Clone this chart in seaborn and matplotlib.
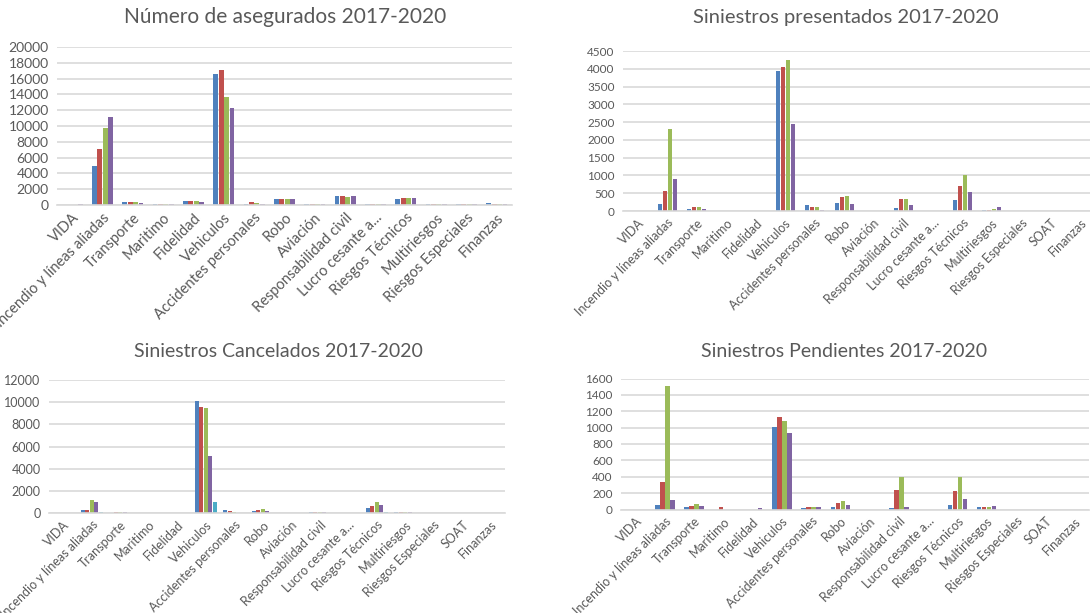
import numpy as np
import pandas as pd
import matplotlib
matplotlib.use("Agg")
import matplotlib.pyplot as plt
import seaborn as sns

sns.set_theme(style="white")
plt.rcParams['font.family'] = ['Lato', 'DejaVu Sans']

# ---------------- data ----------------
cats15 = ["VIDA", "Incendio y líneas aliadas", "Transporte", "Maritimo", "Fidelidad",
          "Vehiculos", "Accidentes personales", "Robo", "Aviación", "Responsabilidad civil",
          "Lucro cesante a...", "Riesgos Técnicos", "Multiriesgos", "Riesgos Especiales",
          "Finanzas"]
cats16 = ["VIDA", "Incendio y líneas aliadas", "Transporte", "Maritimo", "Fidelidad",
          "Vehiculos", "Accidentes personales", "Robo", "Aviación", "Responsabilidad civil",
          "Lucro cesante a...", "Riesgos Técnicos", "Multiriesgos", "Riesgos Especiales",
          "SOAT", "Finanzas"]

years4 = ["2017", "2018", "2019", "2020"]
years5 = ["2017", "2018", "2019", "2020", "Serie 5"]

# Número de asegurados 2017-2020
aseg_2017 = [0, 4900, 350, 130, 550, 16600, 150, 750, 130, 1150, 130, 750, 130, 130, 250]
aseg_2018 = [0, 7100, 350, 130, 550, 17100, 350, 750, 130, 1150, 130, 850, 130, 130, 150]
aseg_2019 = [0, 9800, 320, 130, 450, 13700, 220, 750, 130, 1050, 130, 850, 130, 130, 150]
aseg_2020 = [120, 11100, 250, 130, 350, 12300, 150, 750, 130, 1150, 130, 850, 130, 130, 150]

# Siniestros presentados 2017-2020
pres_2017 = [0, 200, 60, 0, 0, 3950, 170, 230, 0, 90, 0, 300, 30, 0, 0, 0]
pres_2018 = [0, 550, 100, 0, 0, 4060, 100, 400, 0, 350, 0, 710, 20, 0, 0, 0]
pres_2019 = [0, 2320, 120, 0, 0, 4240, 110, 410, 0, 350, 0, 1000, 70, 0, 0, 0]
pres_2020 = [0, 890, 60, 0, 0, 2450, 20, 190, 0, 160, 0, 530, 100, 0, 0, 0]

# Siniestros Cancelados 2017-2020
canc_2017 = [0, 300, 0, 0, 0, 10100, 250, 180, 0, 70, 0, 480, 70, 0, 0, 0]
canc_2018 = [0, 250, 70, 0, 0, 9600, 150, 300, 0, 70, 0, 650, 70, 0, 0, 0]
canc_2019 = [0, 1150, 70, 0, 0, 9450, 80, 350, 0, 120, 0, 980, 70, 0, 0, 0]
canc_2020 = [0, 1020, 70, 0, 0, 5150, 0, 200, 0, 70, 0, 680, 70, 0, 0, 0]
canc_s5 = [0, 80, 0, 0, 0, 1000, 0, 0, 0, 0, 0, 80, 0, 0, 0, 0]

# Siniestros Pendientes 2017-2020
pend_2017 = [0, 60, 25, 0, 0, 1010, 15, 25, 0, 20, 0, 60, 30, 0, 0, 0]
pend_2018 = [0, 340, 45, 25, 0, 1125, 35, 85, 0, 235, 0, 220, 25, 0, 0, 0]
pend_2019 = [0, 1510, 70, 0, 0, 1075, 35, 100, 0, 400, 0, 395, 30, 0, 0, 0]
pend_2020 = [0, 120, 45, 0, 15, 935, 30, 55, 0, 35, 0, 125, 40, 0, 0, 0]

palette = ["#4F81BD", "#C0504D", "#9BBB59", "#8064A2", "#4BACC6"]
TXT = "#595959"
GRID = "#D9D9D9"


def long_df(cats, series, names):
    rows = []
    for name, vals in zip(names, series):
        for c, v in zip(cats, vals):
            rows.append({"cat": c, "serie": name, "val": v})
    return pd.DataFrame(rows)


fig = plt.figure(figsize=(10.9, 6.13), dpi=100)


def panel(rect, cats, series, names, ylim, step, title, title_xy, title_fs,
          tick_fs, xtick_fs, width):
    ax = fig.add_axes(rect)
    df = long_df(cats, series, names)
    sns.barplot(data=df, x="cat", y="val", hue="serie", order=cats, hue_order=names,
                palette=palette[:len(names)], saturation=1, errorbar=None, width=width,
                gap=0.12, linewidth=0, ax=ax, legend=False)
    ax.set_xlim(-0.5, len(cats) - 0.5)
    ax.set_ylim(0, ylim)
    ax.set_yticks(np.arange(0, ylim + 1, step))
    ax.set_yticklabels([f"{int(v)}" for v in np.arange(0, ylim + 1, step)],
                       fontsize=tick_fs, color=TXT)
    ax.set_xticks(range(len(cats)))
    ax.set_xticklabels(cats, rotation=45, ha="right", rotation_mode="anchor",
                       fontsize=xtick_fs, color=TXT)
    ax.set_xlabel("")
    ax.set_ylabel("")
    ax.yaxis.grid(True, color=GRID, linewidth=1.2)
    ax.set_axisbelow(True)
    for s in ["top", "right", "left"]:
        ax.spines[s].set_visible(False)
    ax.spines["bottom"].set_color(GRID)
    ax.spines["bottom"].set_linewidth(1.2)
    ax.tick_params(axis="both", length=0, pad=6)
    ax.tick_params(axis="x", pad=4)
    fig.text(title_xy[0] / 1090, 1 - title_xy[1] / 613, title, ha="center", va="center",
             fontsize=title_fs, color=TXT)
    return ax


# Panel 1
panel([57 / 1090, 1 - 205 / 613, 455 / 1090, 158 / 613], cats15,
      [aseg_2017, aseg_2018, aseg_2019, aseg_2020], years4, 20000, 2000,
      "Número de asegurados 2017-2020", (285, 17), 15, 10, 10.5, 0.72)

# Panel 2
panel([623 / 1090, 1 - 211 / 613, 472 / 1090, 160 / 613], cats16,
      [pres_2017, pres_2018, pres_2019, pres_2020], years4, 4500, 500,
      "Siniestros presentados 2017-2020", (846, 18), 14.5, 8.5, 9, 0.68)

# Panel 3
panel([49 / 1090, 1 - 513 / 613, 456 / 1090, 133 / 613], cats16,
      [canc_2017, canc_2018, canc_2019, canc_2020, canc_s5], years5, 12000, 2000,
      "Siniestros Cancelados 2017-2020", (278, 352), 14, 9, 9, 0.78)

# Panel 4
panel([621 / 1090, 1 - 509.5 / 613, 468 / 1090, 131 / 613], cats16,
      [pend_2017, pend_2018, pend_2019, pend_2020], years4, 1600, 200,
      "Siniestros Pendientes 2017-2020", (844, 352), 14, 8.5, 9, 0.68)

fig.savefig("out.png", dpi=100)
